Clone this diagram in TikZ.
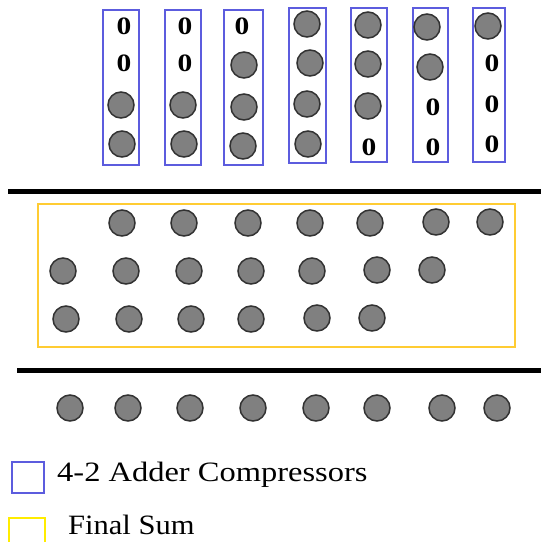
\documentclass[tikz,border=0pt]{standalone}
\usepackage{fontspec}
\setmainfont{Liberation Serif}
\definecolor{dotgray}{RGB}{128,128,128}
\definecolor{dotedge}{RGB}{50,50,50}
\definecolor{cmpblue}{RGB}{92,92,222}
\definecolor{sumgold}{RGB}{255,204,51}
\definecolor{keyyellow}{RGB}{255,236,0}
\begin{document}
\begin{tikzpicture}[x=1pt,y=-1pt,
  dot/.style={circle,fill=dotgray,draw=dotedge,line width=1.5pt,minimum size=26pt,inner sep=0pt},
  zero/.style={font=\fontsize{25}{25}\selectfont\bfseries,inner sep=0pt},
  cmpbox/.style={draw=cmpblue,line width=1.8pt},
  sumbox/.style={draw=sumgold,line width=1.6pt},
  rule/.style={line width=5pt},
  legendtext/.style={font=\fontsize{28}{28}\selectfont,anchor=base west,inner sep=0pt}]
\useasboundingbox (0,0) rectangle (541,542);

% 4-2 compressor columns
\foreach \xa/\ya/\xb/\yb [count=\i] in {103/10/139/165,165/10/201/165,224/10/263/165,
    289/8/326/163,351/8/387/162,413/8/448/162,473/8/505/162}
  \draw[cmpbox] (\xa,\ya) rectangle (\xb,\yb) coordinate (col\i);

% partial product bits
\foreach \x/\y [count=\i] in {121/105,122/144,183/105,184/144,244/65,244/107,243/146,
    307/24,310/63,307/104,308/144,368/25,368/64,368/106,427/27,430/67,488/26}
  \node[dot] (p\i) at (\x,\y) {};
% zero padding
\foreach \x/\y [count=\i] in {124/26,124/63,185/26,185/63,242/26,369/147,433/107,433/147,
    492/63,492/104,492/144}
  \node[zero] (z\i) at (\x,\y) {\scalebox{1.18}[1]{0}};

% separators
\coordinate (r1a) at (8,191);   \coordinate (r1b) at (541,191);
\coordinate (r2a) at (17,370);  \coordinate (r2b) at (541,370);
\draw[rule] (r1a) -- (r1b);
\draw[rule] (r2a) -- (r2b);

% final sum block
\draw[sumbox] (38,204) rectangle (515,347);
\foreach \x/\y [count=\i] in {122/223,184/223,248/223,310/223,370/223,436/222,490/222,
    63/271,126/271,189/271,251/271,312/271,377/270,432/270,
    66/319,129/319,191/319,251/319,317/318,372/318}
  \node[dot] (s\i) at (\x,\y) {};

% result bits
\foreach \x [count=\i] in {70,128,190,253,316,377,442,497}
  \node[dot] (r\i) at (\x,408) {};

% legend
\draw[cmpbox] (12,462) rectangle (44,493);
\node[legendtext] (k1) at (57,481) {\scalebox{1.16}[1]{4-2 Adder Compressors}};
\draw[draw=keyyellow,line width=1.6pt] (9,518) rectangle (45,548);
\node[legendtext] (k2) at (68,534) {\scalebox{1.09}[1]{Final Sum}};
\end{tikzpicture}
\end{document}
